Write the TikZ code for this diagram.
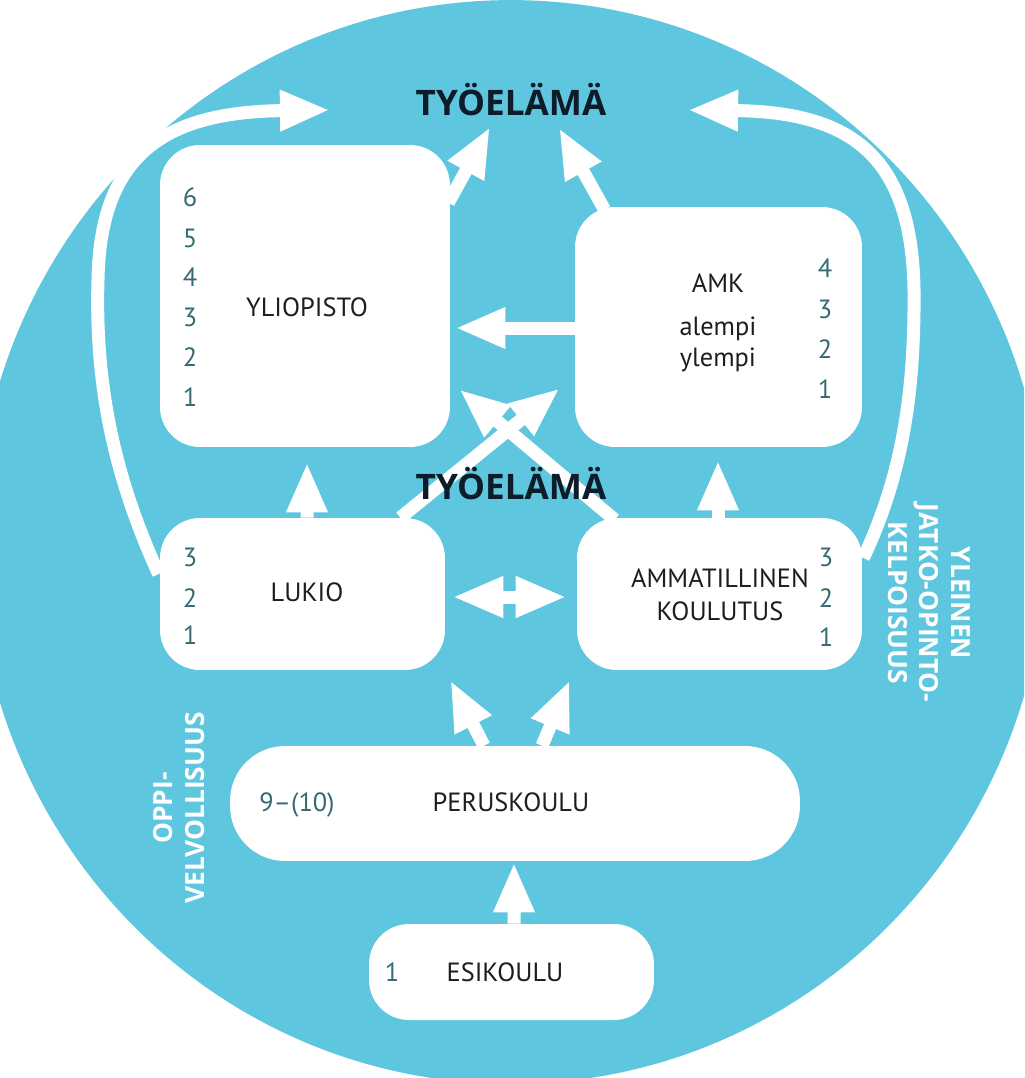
\documentclass[tikz,border=0pt]{standalone}
\usepackage{fontspec}
\setmainfont{PT Sans}
\newfontfamily\osans{Open Sans}
\usetikzlibrary{arrows.meta,calc}
\definecolor{bgblue}{RGB}{94,199,223}
\definecolor{txtcol}{RGB}{30,30,32}
\definecolor{numcol}{RGB}{52,106,114}
\definecolor{titcol}{RGB}{14,28,42}
\tikzset{
  box/.style={fill=white, draw=none, rounded corners=0.8cm, inner sep=0pt},
  lab/.style={font=\fontsize{15}{18}\selectfont, text=txtcol, anchor=base, inner sep=0pt},
  num/.style={lab, text=numcol},
  title/.style={font=\osans\bfseries\fontsize{20}{24}\selectfont, text=titcol, anchor=base, inner sep=0pt},
  vlab/.style={font=\osans\bfseries\fontsize{15}{18}\selectfont, text=white, align=center, inner sep=0pt},
  wa/.style={draw=white, line width=7.4pt, -{Triangle[width=21.6pt,length=28.5pt]}},
  wda/.style={draw=white, line width=7.4pt, {Triangle[width=21.6pt,length=29pt]}-{Triangle[width=21.6pt,length=29pt]}}
}
\begin{document}
\begin{tikzpicture}[x=0.02cm, y=-0.02cm]
\useasboundingbox (0,0) rectangle (1024,1078);
\clip (0,0) rectangle (1024,1078);
\fill[white] (0,0) rectangle (1024,1078);
\fill[bgblue] (511,542) ellipse [x radius=10.7cm, y radius=10.84cm];

% boxes
\node[box, minimum width=5.8cm, minimum height=6.04cm] (yl) at (305,296) {};
\node[box, minimum width=5.74cm, minimum height=4.8cm] (amk) at (718.5,327) {};
\node[box, minimum width=5.7cm, minimum height=3.04cm] (lukio) at (302.5,594) {};
\node[box, minimum width=5.7cm, minimum height=3.04cm] (amm) at (719.5,594) {};
\node[box, rounded corners=1.1cm, minimum width=11.4cm, minimum height=2.3cm] (perus) at (515,803.5) {};
\node[box, minimum width=5.7cm, minimum height=1.92cm] (esi) at (511.5,972) {};

% titles (placed first for naming, drawn over arrows below)
\path (511,115) coordinate (t1base) (511,499) coordinate (t2base);

% arrows
\draw[wa] ($(lukio.north)+(4.5,0)$) -- ($(yl.south)+(2,15)$);
\draw[wa] ($(amm.north)+(-1.5,0)$) -- ($(amk.south)+(-0.5,13)$);
\draw[wa] ($(amk.west)+(2,1)$) -- ($(yl.east)+(5,32)$);
\draw[wa] ($(yl.north east)+(-2,58)$) -- ($(t1base)+(-21,12)$);
\draw[wa] ($(amk.north)+(-114,3)$) -- ($(t1base)+(48,13)$);
\draw[wa] ($(lukio.north east)+(-45,0)$) -- ($(amk.south west)+(-15,-59)$);
\draw[wa] ($(amm.north west)+(38,2)$) -- ($(yl.south east)+(9,-58)$);
\draw[wda] ($(lukio.east)+(7,3)$) -- ($(amm.west)+(-10,3)$);
\draw[wa] ($(perus.north)+(-31,0)$) -- ($(lukio.south east)+(5,10)$);
\draw[wa] ($(perus.north)+(27,0)$) -- ($(amm.south west)+(-7,10)$);
\draw[wa] ($(esi.north)+(2.5,0)$) -- ($(perus.south)+(-1,1)$);
\draw[wa] ($(lukio.west)+(-1,-20)$) .. controls (112,472) and (95,380) .. (98,280)
   .. controls (100,150) and (170,112) .. ($(t1base)+(-181,-5)$);
\draw[wa] ($(amm.east)+(1,-36)$) .. controls (900,480) and (915,400) .. (914,290)
   .. controls (912,155) and (850,112) .. ($(t1base)+(177,-5)$);

% titles
\node[title] (tyo1) at (t1base) {TYÖELÄMÄ};
\node[title] (tyo2) at (t2base) {TYÖELÄMÄ};

% labels
\node[lab] (yltxt) at (307,316) {YLIOPISTO};
\node[lab] (amktxt) at (718,292) {AMK};
\node[lab] (alempi) at (718,335) {alempi};
\node[lab] (ylempi) at (718,366) {ylempi};
\node[lab] (lukiotxt) at (307,601) {LUKIO};
\node[lab] (ammtxt1) at (720,587) {AMMATILLINEN};
\node[lab] (ammtxt2) at (720,620) {KOULUTUS};
\node[lab] (perustxt) at (511,811) {PERUSKOULU};
\node[num] (perusnum) at (297,811) {9–(10)};
\node[lab] (esitxt) at (505,981) {ESIKOULU};
\node[num] (esinum) at (392,981) {1};

\foreach \n/\yy in {6/206,5/247,4/286,3/326,2/366,1/406}
  \node[num] (yln\n) at (190,\yy) {\n};
\foreach \n/\yy in {4/277,3/318,2/358,1/398}
  \node[num] (amkn\n) at (825,\yy) {\n};
\foreach \n/\yy in {3/566,2/607,1/644}
  \node[num] (lukn\n) at (190,\yy) {\n};
\foreach \n/\yy in {3/566,2/607,1/646}
  \node[num] (ammn\n) at (826,\yy) {\n};

% vertical labels
\node[vlab, rotate=90] (oppi) at (179,808) {OPPI-\\VELVOLLISUUS};
\node[vlab, rotate=-90] (yleinen) at (929,603) {YLEINEN\\JATKO-OPINTO-\\KELPOISUUS};
\end{tikzpicture}
\end{document}
